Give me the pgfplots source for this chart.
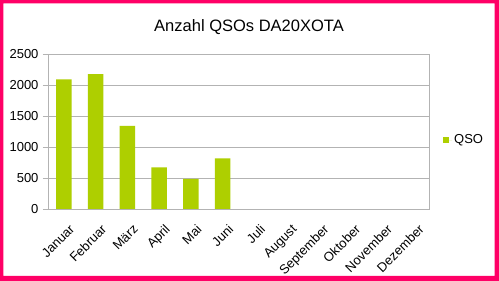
\documentclass[border=0pt]{standalone}
\usepackage{pgfplots}
\pgfplotsset{compat=1.18}
\usepackage{fontspec}
\setmainfont{Liberation Sans}
\definecolor{bargreen}{HTML}{AECF00}
\definecolor{gridgray}{HTML}{B3B3B3}
\definecolor{framepink}{HTML}{FF0066}
\begin{document}
\begin{tikzpicture}[x=1pt,y=1pt]
\path[use as bounding box] (0,0) rectangle (499,281);
\fill[white] (0,0) rectangle (499,281);
\fill[framepink, even odd rule] (0,0) rectangle (499,281) (3.4,5) rectangle (494.6,277.7);
\node[anchor=base, font=\fontsize{16.5}{19}\selectfont] at (249,249) {Anzahl QSOs DA20XOTA};
\begin{axis}[
  at={(48pt,72pt)}, anchor=south west,
  scale only axis, width=381pt, height=155pt,
  ybar, bar width=15.5pt,
  xmin=-0.5, xmax=11.5, ymin=0, ymax=2500,
  xtick={0,...,11},
  xticklabels={Januar,Februar,März,April,Mai,Juni,Juli,August,September,Oktober,November,Dezember},
  minor xtick={-0.5,0.5,...,11.5},
  ytick={0,500,...,2500},
  ymajorgrids, major grid style={gridgray, line width=0.8pt},
  axis line style={gridgray, line width=0.8pt},
  tick align=outside, major tick length=5pt, minor tick length=5pt,
  xtick style={draw=none},
  minor x tick style={gridgray, line width=0.8pt},
  ytick style={gridgray, line width=0.8pt},
  xtick pos=bottom, ytick pos=left,
  /pgf/number format/assume math mode=true,
  /pgf/number format/1000 sep={},
  tick label style={font=\fontsize{13}{15}\selectfont, black},
  yticklabel style={xshift=-1pt},
  xticklabel style={rotate=45, anchor=north east, xshift=0pt, yshift=-7pt},
  legend style={at={(axis description cs:1,0.445)}, anchor=west, xshift=14pt, draw=none, fill=none, font=\fontsize{13}{15}\selectfont, inner sep=0pt},
  legend image code/.code={\fill[bargreen] (0pt,-3pt) rectangle (6pt,3pt); \path (0pt,0pt) -- (9pt,0pt);},
]
\addplot[fill=bargreen, draw=none] coordinates {(0,2092) (1,2177) (2,1339) (3,672) (4,484) (5,817)};
\addlegendentry{QSO}
\end{axis}
\end{tikzpicture}
\end{document}
